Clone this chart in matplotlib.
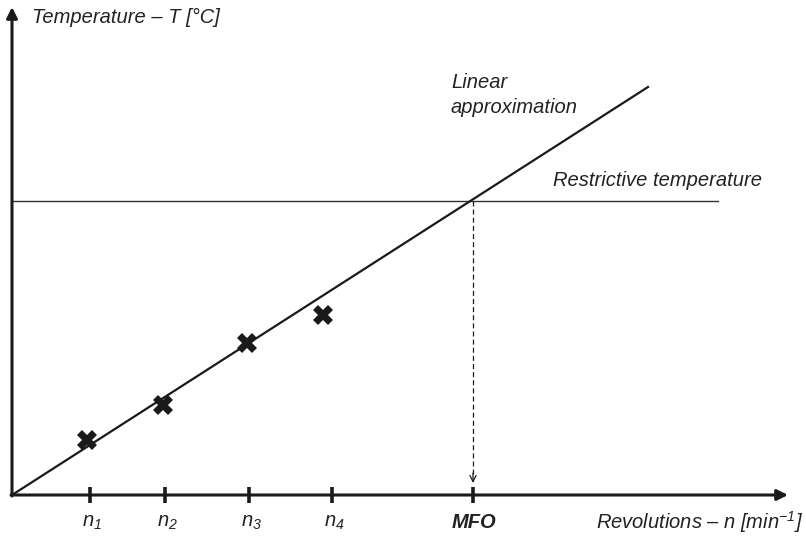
import matplotlib.pyplot as plt

plt.rcParams['font.family'] = ['Liberation Sans', 'DejaVu Sans']
plt.rcParams['mathtext.fontset'] = 'custom'
plt.rcParams['mathtext.it'] = 'Liberation Sans:italic'
plt.rcParams['mathtext.rm'] = 'Liberation Sans:italic'

# measured points (speed, temperature) in diagram units
n_pos = [78, 153, 237, 320]
n_labels = ['$n_1$', '$n_2$', '$n_3$', '$n_4$']
meas_x = [75, 151, 235, 311]
meas_y = [55, 90, 152, 180]

# linear approximation end point and restrictive temperature
lin_x = [0, 636]
lin_y = [0, 408]
t_restrict = 294
mfo = 461

ink = '#1a1a1a'

fig = plt.figure(figsize=(8.06, 5.4), dpi=100)
ax = fig.add_axes([0, 0, 1, 1])
ax.set_xlim(-12, 794)
ax.set_ylim(-45, 495)
ax.axis('off')

# axes with arrows
ax.annotate('', xy=(776, 0), xytext=(-1, 0),
            arrowprops=dict(arrowstyle='-|>', lw=2.2, color=ink, mutation_scale=16, shrinkA=0, shrinkB=0))
ax.annotate('', xy=(0, 488), xytext=(0, -1),
            arrowprops=dict(arrowstyle='-|>', lw=2.2, color=ink, mutation_scale=16, shrinkA=0, shrinkB=0))

# ticks
for x in n_pos + [mfo]:
    ax.plot([x, x], [-8, 8], color=ink, lw=2.6, solid_capstyle='butt')

# restrictive temperature
ax.plot([0, 706], [t_restrict, t_restrict], color='#333333', lw=1.0)

# linear approximation
ax.plot(lin_x, lin_y, color=ink, lw=1.6)

# measurements
ax.plot(meas_x, meas_y, linestyle='none', marker='X', markersize=14,
        color=ink, markeredgewidth=0)

# dashed drop to MFO
ax.plot([mfo, mfo], [t_restrict, 20], color=ink, lw=0.9, linestyle=(0, (4, 2.5)))
ax.annotate('', xy=(mfo, 12), xytext=(mfo, 22),
            arrowprops=dict(arrowstyle='->', lw=0.9, color=ink, mutation_scale=11, shrinkA=0, shrinkB=0))

# labels
fs = 14.5
tc = '#222222'
for x, lab in zip(n_pos, n_labels):
    ax.text(x + 2, -27, lab, ha='center', va='center', fontsize=fs, style='italic', color=tc)
ax.text(mfo + 1, -27, 'MFO', ha='center', va='center', fontsize=fs, style='italic',
        fontweight='bold', color=tc)
ax.text(791, -27, 'Revolutions – n [min$^{-1}$]', ha='right', va='center', fontsize=fs,
        style='italic', color=tc)
ax.text(20, 478, 'Temperature – T [°C]', ha='left', va='center', fontsize=fs, style='italic', color=tc)
ax.text(439, 400, 'Linear\napproximation', ha='left', va='center', fontsize=fs, style='italic',
        linespacing=1.45, color=tc)
ax.text(541, 315, 'Restrictive temperature', ha='left', va='center', fontsize=fs, style='italic', color=tc)

fig.savefig('out.png', dpi=100)
